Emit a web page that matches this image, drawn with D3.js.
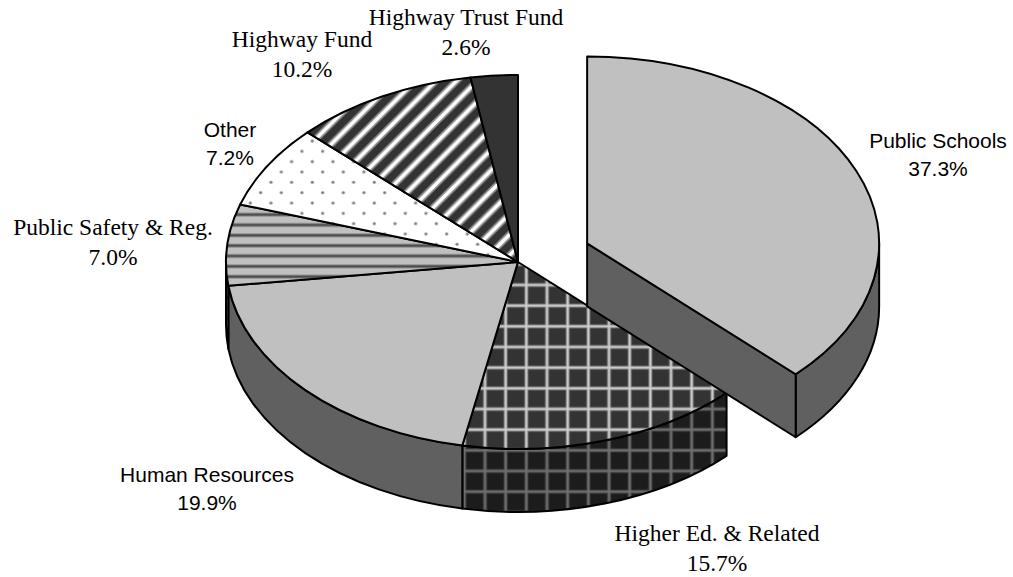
<!DOCTYPE html>
<html>
<head>
<meta charset="utf-8">
<script src="https://cdn.jsdelivr.net/npm/d3@7"></script>
<style>
  body { margin: 0; background: #fff; }
  svg { display: block; }
</style>
</head>
<body>
<div id="chart"></div>
<script>
// chart size
var w = 1013;
var h = 577;

// data (clockwise from 12 o'clock)
var categories = ["Public Schools", "Higher Ed. & Related", "Human Resources",
                  "Public Safety & Reg.", "Other", "Highway Fund", "Highway Trust Fund"];
var values = [37.3, 15.7, 19.9, 7.0, 7.2, 10.2, 2.6];
var exploded = ["Public Schools"];

// 3d pie geometry
var cx = 518, cy = 262;
var rx = 292, ry = 187;
var depth = 63;
var explodeDist = 75;
var tile = 20.67;

// fill for top and side of each slice
var fills = {
    "Public Schools":       { top: "#c0c0c0", side: "#606060" },
    "Higher Ed. & Related": { top: "url(#gridTop)", side: "url(#gridSide)" },
    "Human Resources":      { top: "#c0c0c0", side: "#606060" },
    "Public Safety & Reg.": { top: "url(#hstripeTop)", side: "url(#hstripeSide)" },
    "Other":                { top: "url(#dots)", side: "#808080" },
    "Highway Fund":         { top: "url(#diag)", side: "#1a1a1a" },
    "Highway Trust Fund":   { top: "#333333", side: "#1a1a1a" }
};

// label placement, font
var labelPos = {
    "Public Schools":       { x: 938, y: 148, font: "sans" },
    "Higher Ed. & Related": { x: 717, y: 541, font: "serif" },
    "Human Resources":      { x: 207, y: 482, font: "sans" },
    "Public Safety & Reg.": { x: 113, y: 235, font: "serif" },
    "Other":                { x: 230, y: 137, font: "sans" },
    "Highway Fund":         { x: 302, y: 47,  font: "serif" },
    "Highway Trust Fund":   { x: 466, y: 25,  font: "serif" }
};

var svg = d3.select("#chart")
    .append("svg")
    .attr("width", w)
    .attr("height", h);

// ---- patterns ----
var defs = svg.append("defs");

function gridPattern(id, bg, soft, line) {
    var p = defs.append("pattern")
        .attr("id", id)
        .attr("patternUnits", "userSpaceOnUse")
        .attr("x", 485 - tile / 2).attr("y", 285 - tile / 2)
        .attr("width", tile).attr("height", tile);
    p.append("rect").attr("width", tile).attr("height", tile).attr("fill", bg);
    [[soft, 4], [line, 2]].forEach(function(s) {
        p.append("line").attr("x1", tile / 2).attr("x2", tile / 2)
            .attr("y1", 0).attr("y2", tile)
            .attr("stroke", s[0]).attr("stroke-width", s[1]);
        p.append("line").attr("y1", tile / 2).attr("y2", tile / 2)
            .attr("x1", 0).attr("x2", tile)
            .attr("stroke", s[0]).attr("stroke-width", s[1]);
    });
}
gridPattern("gridTop", "#333333", "#777777", "#d0d0d0");
gridPattern("gridSide", "#1c1c1c", "#404040", "#707070");

function hstripePattern(id, bg, soft, line) {
    var ph = tile / 2;
    var p = defs.append("pattern")
        .attr("id", id)
        .attr("patternUnits", "userSpaceOnUse")
        .attr("x", 0).attr("y", 225 - ph / 2)
        .attr("width", tile).attr("height", ph);
    p.append("rect").attr("width", tile).attr("height", ph).attr("fill", bg);
    p.append("line").attr("x1", 0).attr("x2", tile).attr("y1", ph / 2).attr("y2", ph / 2)
        .attr("stroke", soft).attr("stroke-width", 4);
    p.append("line").attr("x1", 0).attr("x2", tile).attr("y1", ph / 2).attr("y2", ph / 2)
        .attr("stroke", line).attr("stroke-width", 2);
}
hstripePattern("hstripeTop", "#c0c0c0", "#8a8a8a", "#474747");
hstripePattern("hstripeSide", "#606060", "#404040", "#202020");

var dots = defs.append("pattern")
    .attr("id", "dots")
    .attr("patternUnits", "userSpaceOnUse")
    .attr("x", 312.3 - tile / 4).attr("y", 141 - tile / 4)
    .attr("width", tile).attr("height", tile);
dots.append("rect").attr("width", tile).attr("height", tile).attr("fill", "#ffffff");
[[tile / 4, tile / 4], [tile * 3 / 4, tile * 3 / 4]].forEach(function(d) {
    dots.append("circle").attr("cx", d[0]).attr("cy", d[1]).attr("r", 1.8).attr("fill", "#b0b0b0");
    dots.append("circle").attr("cx", d[0]).attr("cy", d[1]).attr("r", 1.1).attr("fill", "#707070");
});

var diag = defs.append("pattern")
    .attr("id", "diag")
    .attr("patternUnits", "userSpaceOnUse")
    .attr("x", 0).attr("y", 0)
    .attr("width", tile).attr("height", tile);
diag.append("rect").attr("width", tile).attr("height", tile).attr("fill", "#333333");
[[0, 0], [-tile / 2, -tile / 2], [tile / 2, tile / 2]].forEach(function(o) {
    [["#8f8f8f", 7], ["#ffffff", 3.5]].forEach(function(s) {
        diag.append("line")
            .attr("x1", o[0] - 2).attr("y1", o[1] + tile + 2)
            .attr("x2", o[0] + tile + 2).attr("y2", o[1] - 2)
            .attr("stroke", s[0]).attr("stroke-width", s[1]);
    });
});

// ---- pie layout ----
var pie = d3.pie().sort(null).value(function(d) { return d.value; });
var data = categories.map(function(c, i) { return { name: c, value: values[i] }; });
var arcs = pie(data);

// point on rim of ellipse; angle is clockwise from 12 o'clock
function rim(a, ox, oy, dz) {
    return [ox + rx * Math.sin(a), oy - ry * Math.cos(a) + (dz || 0)];
}

function topPath(d, ox, oy) {
    var p0 = rim(d.startAngle, ox, oy), p1 = rim(d.endAngle, ox, oy);
    var large = (d.endAngle - d.startAngle) > Math.PI ? 1 : 0;
    return "M" + ox + "," + oy + "L" + p0 + "A" + rx + "," + ry + " 0 " + large + " 1 " + p1 + "Z";
}

// outer wall, only the part facing the viewer (between 3 and 9 o'clock)
function sidePath(d, ox, oy) {
    var s0 = Math.max(d.startAngle, Math.PI / 2);
    var s1 = Math.min(d.endAngle, Math.PI * 3 / 2);
    if (s1 <= s0) return null;
    var a = rim(s0, ox, oy), b = rim(s1, ox, oy);
    var c = rim(s1, ox, oy, depth), e = rim(s0, ox, oy, depth);
    return "M" + a + "A" + rx + "," + ry + " 0 0 1 " + b + "L" + c +
           "A" + rx + "," + ry + " 0 0 0 " + e + "Z";
}

// radial cut face at angle a
function cutPath(a, ox, oy) {
    var p = rim(a, ox, oy), pd = rim(a, ox, oy, depth);
    return "M" + ox + "," + oy + "L" + p + "L" + pd + "L" + ox + "," + (oy + depth) + "Z";
}

function offset(d) {
    if (exploded.indexOf(d.data.name) < 0) return [cx, cy];
    var m = (d.startAngle + d.endAngle) / 2;
    return [cx + explodeDist * Math.sin(m), cy - explodeDist * (ry / rx) * Math.cos(m)];
}

function style(sel) {
    return sel.attr("stroke", "#000").attr("stroke-width", 2).attr("stroke-linejoin", "round");
}

var mainArcs = arcs.filter(function(d) { return exploded.indexOf(d.data.name) < 0; });
var outArcs = arcs.filter(function(d) { return exploded.indexOf(d.data.name) >= 0; });

var g = svg.append("g");

// main pie: walls then tops
mainArcs.forEach(function(d) {
    var o = offset(d), sp = sidePath(d, o[0], o[1]);
    if (sp) style(g.append("path").attr("d", sp).attr("fill", fills[d.data.name].side));
});
mainArcs.forEach(function(d) {
    var o = offset(d);
    style(g.append("path").attr("d", topPath(d, o[0], o[1])).attr("fill", fills[d.data.name].top));
});

// exploded slice drawn last
outArcs.forEach(function(d) {
    var o = offset(d), sp = sidePath(d, o[0], o[1]);
    if (sp) style(g.append("path").attr("d", sp).attr("fill", fills[d.data.name].side));
    style(g.append("path").attr("d", cutPath(d.endAngle, o[0], o[1])).attr("fill", fills[d.data.name].side));
    style(g.append("path").attr("d", topPath(d, o[0], o[1])).attr("fill", fills[d.data.name].top));
});

// ---- labels ----
var fmt = d3.format(".1f");
var labels = svg.append("g")
    .selectAll("text")
    .data(arcs)
    .enter()
    .append("text")
    .attr("text-anchor", "middle")
    .attr("fill", "#000")
    .style("font-family", function(d) {
        return labelPos[d.data.name].font == "serif"
            ? "'Liberation Serif', 'Times New Roman', serif"
            : "'Liberation Sans', Arial, sans-serif";
    })
    .style("font-size", function(d) {
        return labelPos[d.data.name].font == "serif" ? "23.5px" : "21px";
    });

labels.append("tspan")
    .attr("x", function(d) { return labelPos[d.data.name].x; })
    .attr("y", function(d) { return labelPos[d.data.name].y; })
    .text(function(d) { return d.data.name; });

labels.append("tspan")
    .attr("x", function(d) { return labelPos[d.data.name].x; })
    .attr("y", function(d) {
        return labelPos[d.data.name].y + (labelPos[d.data.name].font == "serif" ? 30 : 28);
    })
    .text(function(d) { return fmt(d.data.value) + "%"; });
</script>
</body>
</html>
